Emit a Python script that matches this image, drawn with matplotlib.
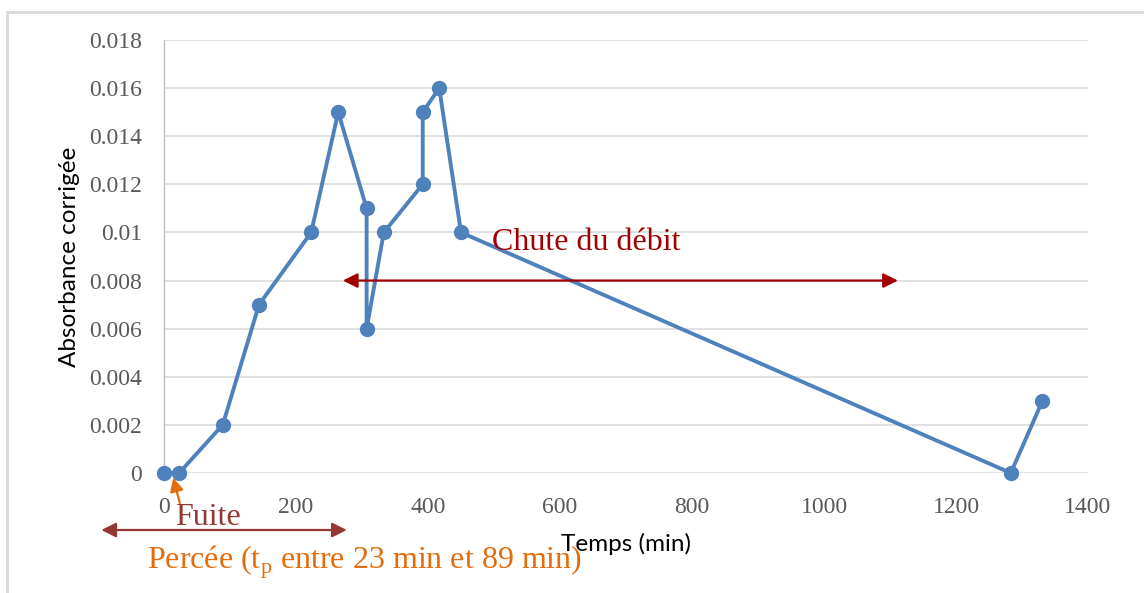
import matplotlib
matplotlib.use("Agg")
import matplotlib.pyplot as plt
from matplotlib.patches import Rectangle

# Data
temps = [0, 23, 89, 144, 223, 264, 307, 307, 333, 392, 392, 417, 450, 1283, 1331]
absorbance = [0, 0, 0.002, 0.007, 0.010, 0.015, 0.011, 0.006, 0.010, 0.012, 0.015, 0.016, 0.010, 0, 0.003]
xticks = [0, 200, 400, 600, 800, 1000, 1200, 1400]
yticks = [0, 0.002, 0.004, 0.006, 0.008, 0.01, 0.012, 0.014, 0.016, 0.018]
ytick_labels = ["0", "0.002", "0.004", "0.006", "0.008", "0.01", "0.012", "0.014", "0.016", "0.018"]

W, H, DPI = 1144, 593, 100
fig = plt.figure(figsize=(W / DPI, H / DPI), dpi=DPI)
fig.patch.set_facecolor("white")

# outer frame (only left and top visible)
fig.patches.append(Rectangle((7 / W, -0.1), 1.2, 1 - 12 / H + 0.1, transform=fig.transFigure,
                             fill=False, edgecolor="#D9D9D9", linewidth=2.0, zorder=0))

ax = fig.add_axes([164 / W, 1 - 473 / H, (1088 - 164) / W, (473 - 40) / H])
ax.set_xlim(0, 1400)
ax.set_ylim(0, 0.018)
ax.set_xticks(xticks)
ax.set_xticklabels([str(v) for v in xticks])
ax.set_yticks(yticks)
ax.set_yticklabels(ytick_labels)
ax.grid(axis="y", color="#D9D9D9", linewidth=1.1)
ax.set_axisbelow(True)
for s in ["top", "right", "bottom"]:
    ax.spines[s].set_visible(False)
ax.spines["left"].set_color("#BFBFBF")
ax.spines["left"].set_linewidth(1.0)
ax.tick_params(length=0, labelcolor="#595959")
for lab in ax.get_xticklabels() + ax.get_yticklabels():
    lab.set_fontfamily("Liberation Serif")
    lab.set_fontsize(17)
ax.tick_params(axis="x", pad=17)
ax.tick_params(axis="y", pad=16)

ax.plot(temps, absorbance, color="#4F81BD", linewidth=2.8, marker="o", markersize=10,
        clip_on=False, zorder=3)

ax.set_xlabel("Temps (min)", fontfamily="Lato", fontsize=17.5, color="black", labelpad=11)
ax.set_ylabel("Absorbance corrigée", fontfamily="Lato", fontsize=17.5, color="black", labelpad=6)

serif = "Liberation Serif"
# Chute du débit
ax.annotate("", xy=(271, 0.008), xytext=(1112, 0.008),
            arrowprops=dict(arrowstyle="<|-|>", color="#A00000", lw=1.6, mutation_scale=22,
                            shrinkA=0, shrinkB=0), annotation_clip=False)
ax.text(640, 0.0096, "Chute du débit", fontfamily=serif, fontsize=23, color="#A00000",
        ha="center", va="center")

# Fuite
ax.annotate("", xy=(14, -0.0002), xytext=(24, -0.00125),
            arrowprops=dict(arrowstyle="-|>", color="#E46C0A", lw=1.6, mutation_scale=20,
                            shrinkA=0, shrinkB=0), annotation_clip=False)
ax.text(67, -0.00187, "Fuite", fontfamily=serif, fontsize=23, color="#953735",
        ha="center", va="center", clip_on=False)
ax.annotate("", xy=(-95, -0.00237), xytext=(277, -0.00237),
            arrowprops=dict(arrowstyle="<|-|>", color="#953735", lw=1.6, mutation_scale=22,
                            shrinkA=0, shrinkB=0), annotation_clip=False)
ax.text(-26, -0.0037, r"Percée (t$_\mathregular{p}$ entre 23 min et 89 min)", fontfamily=serif,
        fontsize=23, color="#E46C0A", ha="left", va="center", clip_on=False)

fig.savefig("out.png", dpi=DPI)
